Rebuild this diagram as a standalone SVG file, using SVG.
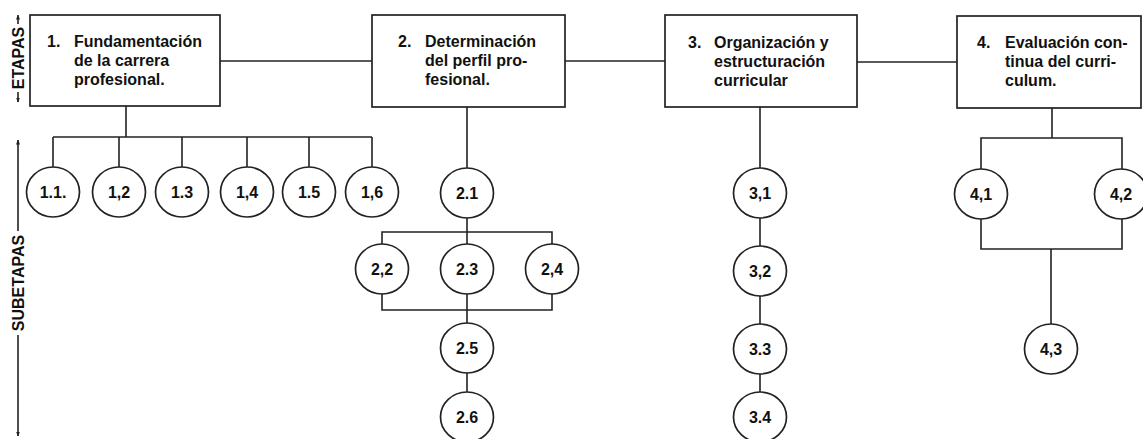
<svg xmlns="http://www.w3.org/2000/svg" width="1143" height="439" viewBox="0 0 1143 439">
<defs>
<style>
.box{fill:#fff;stroke:#222;stroke-width:1.7}
.c{fill:#fff;stroke:#222;stroke-width:1.7}
.ln{fill:none;stroke:#222;stroke-width:1.6}
.bt{font-family:"Liberation Sans",Arial,Helvetica,sans-serif;font-weight:bold;font-size:16px;fill:#111}
.ct{font-family:"Liberation Sans",Arial,Helvetica,sans-serif;font-weight:bold;font-size:16px;fill:#111;text-anchor:middle}
.side{font-family:"Liberation Sans",Arial,Helvetica,sans-serif;font-weight:bold;font-size:16px;fill:#111;text-anchor:middle}
</style>
<marker id="ah" viewBox="0 0 10 10" refX="9" refY="5" markerWidth="5" markerHeight="5" orient="auto-start-reverse" markerUnits="userSpaceOnUse">
<path d="M0,1 L10,5 L0,9 z" fill="#222"/>
</marker>
</defs>
<rect width="1143" height="439" fill="#fff"/>

<g id="connectors">
<line class="ln" x1="220" y1="61" x2="372" y2="61"/>
<line class="ln" x1="565" y1="61" x2="665" y2="61"/>
<line class="ln" x1="857" y1="62" x2="957" y2="62"/>
<path class="ln" d="M126,106 V137 M53,137 H372 M53,137 V167 M119,137 V167 M182,137 V167 M247,137 V167 M309,137 V167 M372,137 V167"/>
<path class="ln" d="M467,107 V168 M467,218 V244 M382,244 V232 H552 V244 M382,294 V310 H552 V294 M467,294 V323 M467,373 V392"/>
<path class="ln" d="M760,107 V168 M760,218 V246 M760,296 V324 M760,374 V392"/>
<path class="ln" d="M1052,108 V138 M981,169 V138 H1122 V169 M981,219 V249 H1122 V219 M1051,249 V324"/>
</g>

<g id="axis-etapas">
<line class="ln" x1="18" y1="24" x2="18" y2="15" marker-end="url(#ah)"/>
<line class="ln" x1="18" y1="92" x2="18" y2="102" marker-end="url(#ah)"/>
<text class="side" transform="translate(24,58) rotate(-90)">ETAPAS</text>
</g>
<g id="axis-subetapas">
<line class="ln" x1="18" y1="231" x2="18" y2="140" marker-end="url(#ah)"/>
<line class="ln" x1="18" y1="335" x2="18" y2="436" marker-end="url(#ah)"/>
<text class="side" transform="translate(24,283) rotate(-90)">SUBETAPAS</text>
</g>

<g id="stage1">
<rect class="box" x="30" y="15" width="190" height="91"/>
<text class="bt" x="47" y="47">1.</text>
<text class="bt" x="74" y="47">Fundamentación</text>
<text class="bt" x="74" y="66">de la carrera</text>
<text class="bt" x="74" y="85">profesional.</text>
</g>
<g id="stage2">
<rect class="box" x="372" y="15" width="193" height="92"/>
<text class="bt" x="398" y="47">2.</text>
<text class="bt" x="425" y="47">Determinación</text>
<text class="bt" x="425" y="66">del perfil pro-</text>
<text class="bt" x="425" y="85">fesional.</text>
</g>
<g id="stage3">
<rect class="box" x="665" y="15" width="192" height="92"/>
<text class="bt" x="688" y="48">3.</text>
<text class="bt" x="714" y="48">Organización y</text>
<text class="bt" x="714" y="67">estructuración</text>
<text class="bt" x="714" y="86">curricular</text>
</g>
<g id="stage4">
<rect class="box" x="957" y="16" width="184" height="92"/>
<text class="bt" x="977" y="48">4.</text>
<text class="bt" x="1005" y="48">Evaluación con-</text>
<text class="bt" x="1005" y="67">tinua del curri-</text>
<text class="bt" x="1005" y="86">culum.</text>
</g>

<g id="n1-1"><ellipse class="c" cx="53" cy="192" rx="26.5" ry="25"/><text class="ct" x="53" y="198">1.1.</text></g>
<g id="n1-2"><ellipse class="c" cx="119" cy="192" rx="26.5" ry="25"/><text class="ct" x="119" y="198">1,2</text></g>
<g id="n1-3"><ellipse class="c" cx="182" cy="192" rx="26.5" ry="25"/><text class="ct" x="182" y="198">1.3</text></g>
<g id="n1-4"><ellipse class="c" cx="247" cy="192" rx="26.5" ry="25"/><text class="ct" x="247" y="198">1,4</text></g>
<g id="n1-5"><ellipse class="c" cx="309" cy="192" rx="26.5" ry="25"/><text class="ct" x="309" y="198">1.5</text></g>
<g id="n1-6"><ellipse class="c" cx="372" cy="192" rx="26.5" ry="25"/><text class="ct" x="372" y="198">1,6</text></g>

<g id="n2-1"><ellipse class="c" cx="467" cy="193" rx="26.5" ry="25"/><text class="ct" x="467" y="199">2.1</text></g>
<g id="n2-2"><ellipse class="c" cx="382" cy="269" rx="26.5" ry="25"/><text class="ct" x="382" y="275">2,2</text></g>
<g id="n2-3"><ellipse class="c" cx="467" cy="269" rx="26.5" ry="25"/><text class="ct" x="467" y="275">2.3</text></g>
<g id="n2-4"><ellipse class="c" cx="552" cy="269" rx="26.5" ry="25"/><text class="ct" x="552" y="275">2,4</text></g>
<g id="n2-5"><ellipse class="c" cx="467" cy="348" rx="26.5" ry="25"/><text class="ct" x="467" y="354">2.5</text></g>
<g id="n2-6"><ellipse class="c" cx="467" cy="417" rx="26.5" ry="25"/><text class="ct" x="467" y="423">2.6</text></g>

<g id="n3-1"><ellipse class="c" cx="760" cy="193" rx="26.5" ry="25"/><text class="ct" x="760" y="199">3,1</text></g>
<g id="n3-2"><ellipse class="c" cx="760" cy="271" rx="26.5" ry="25"/><text class="ct" x="760" y="277">3,2</text></g>
<g id="n3-3"><ellipse class="c" cx="760" cy="349" rx="26.5" ry="25"/><text class="ct" x="760" y="355">3.3</text></g>
<g id="n3-4"><ellipse class="c" cx="760" cy="417" rx="26.5" ry="25"/><text class="ct" x="760" y="423">3.4</text></g>

<g id="n4-1"><ellipse class="c" cx="981" cy="194" rx="26.5" ry="25"/><text class="ct" x="981" y="200">4,1</text></g>
<g id="n4-2"><ellipse class="c" cx="1121" cy="194" rx="26.5" ry="25"/><text class="ct" x="1121" y="200">4,2</text></g>
<g id="n4-3"><ellipse class="c" cx="1051" cy="349" rx="26.5" ry="25"/><text class="ct" x="1051" y="355">4,3</text></g>
</svg>
